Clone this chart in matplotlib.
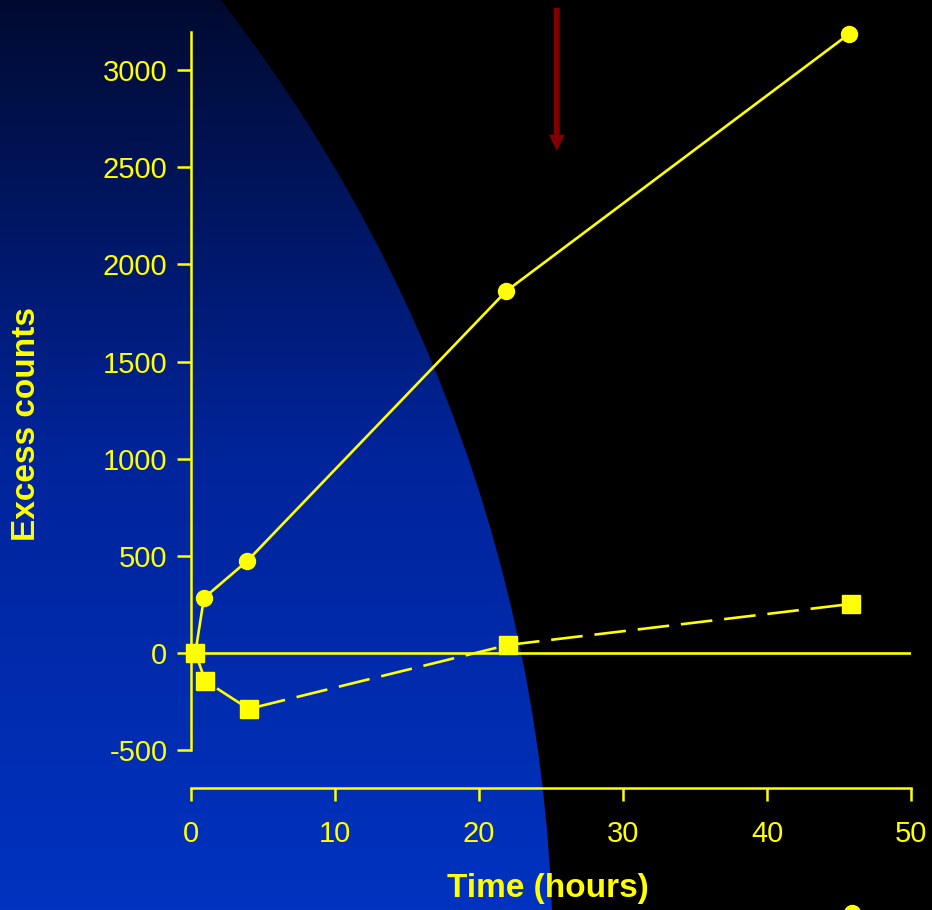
import numpy as np
import matplotlib
matplotlib.use("Agg")
import matplotlib.pyplot as plt
from matplotlib.patches import Circle
from matplotlib.colors import LinearSegmentedColormap

plt.rcParams['font.family'] = ['Liberation Sans', 'DejaVu Sans']
plt.rcParams['axes.unicode_minus'] = False

# data
time_circles = [0.3, 0.9, 3.9, 21.9, 45.7]
counts_circles = [0, 283, 473, 1863, 3186]
time_squares = [0.3, 1.0, 4.0, 22.0, 45.8]
counts_squares = [0, -144, -288, 41, 252]
stray_point = (45.9, -1338)
arrow_x = 25.4
arrow_y = (3320, 2585)
xticks = [0, 10, 20, 30, 40, 50]
yticks = [-500, 0, 500, 1000, 1500, 2000, 2500, 3000]

yellow = '#FFFF00'
W, H = 932, 910
fig = plt.figure(figsize=(W / 100, H / 100), dpi=100, facecolor='black')

# background: blue gradient inside a big circle
bg = fig.add_axes([0, 0, 1, 1])
bg.set_xlim(0, W)
bg.set_ylim(H, 0)
bg.axis('off')
cmap = LinearSegmentedColormap.from_list(
    'bgblue', [(0, '#000a30'), (0.5, '#00249a'), (1, '#0033c0')])
grad = np.linspace(0, 1, 256).reshape(-1, 1)
im = bg.imshow(grad, cmap=cmap, extent=(0, W, H, 0), aspect='auto')
clip = Circle((-1023, 968), 1576, transform=bg.transData)
im.set_clip_path(clip)

ax = fig.add_axes([191 / W, 1 - 788 / H, 720 / W, (788 - 32) / H])
ax.patch.set_alpha(0)
ax.set_xlim(0, 50)
ax.set_ylim(-695, 3196)

for s in ['top', 'right']:
    ax.spines[s].set_visible(False)
for s in ['left', 'bottom']:
    ax.spines[s].set_color(yellow)
    ax.spines[s].set_linewidth(1.8)
ax.spines['left'].set_bounds(-500, 3196)

ax.set_xticks(xticks)
ax.set_yticks(yticks)
ax.tick_params(axis='both', colors=yellow, labelcolor=yellow, labelsize=21,
               length=10, width=1.8, direction='out')
ax.tick_params(axis='x', length=9, pad=14)
ax.tick_params(axis='y', pad=7)

ax.axhline(0, color=yellow, lw=1.9, zorder=1)

ax.plot(time_circles, counts_circles, color=yellow, lw=1.9, marker='o',
        markersize=11.5, zorder=3, clip_on=False)
line, = ax.plot(time_squares, counts_squares, color=yellow, lw=1.9, marker='s',
                markersize=13, zorder=4, clip_on=False)
line.set_dashes((12, 4.5))
ax.plot([stray_point[0]], [stray_point[1]], marker='o', color=yellow,
        markersize=11.5, clip_on=False)

ax.annotate('', xy=(arrow_x, arrow_y[1]), xytext=(arrow_x, arrow_y[0]),
            annotation_clip=False,
            arrowprops=dict(arrowstyle='simple,head_length=1.15,head_width=1.15,tail_width=0.43',
                            mutation_scale=10, color='#800000', lw=0,
                            shrinkA=0, shrinkB=0))

fig.text(548 / W, 1 - 888 / H, 'Time (hours)', color=yellow, fontsize=24,
         fontweight='bold', ha='center', va='center')
fig.text(27 / W, 1 - 424 / H, 'Excess counts', color=yellow, fontsize=24,
         fontweight='bold', ha='center', va='center', rotation=90)

fig.savefig('out.png', dpi=100, facecolor='black')
